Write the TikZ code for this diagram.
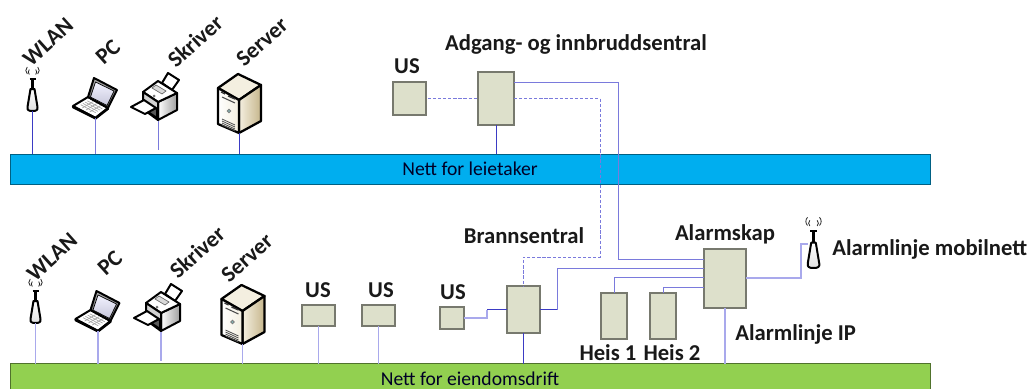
\documentclass[tikz,border=0pt]{standalone}
\usepackage{fontspec}
\setmainfont{Carlito}
\newdimen\px \px=0.75pt
\definecolor{boxfill}{HTML}{DDE0CB}
\definecolor{boxedge}{HTML}{77796E}
\definecolor{netblue}{HTML}{00AEEF}
\definecolor{netgreen}{HTML}{92D050}
\definecolor{linedark}{HTML}{3B3BC4}
\definecolor{linemid}{HTML}{7A7ADC}
\definecolor{linelight}{HTML}{A9A9EC}
\definecolor{tanlight}{HTML}{F4EFE0}
\definecolor{tandark}{HTML}{C6B68C}
\tikzset{
  x=0.75pt,y=-0.75pt,
  unitbox/.style={draw=boxedge,fill=boxfill,line width=0.8pt,inner sep=0pt,outer sep=0pt},
  net/.style={draw=#1!55!black,fill=#1,line width=0.7pt,minimum width=920\px,inner sep=0pt,outer sep=0pt,font=\fontsize{14.7}{16}\selectfont,text=black!85!blue},
  lbl/.style={font=\fontsize{17}{19}\selectfont\bfseries,inner sep=0pt,text=black!90},
  tilt/.style={lbl,rotate=42},
  wdark/.style={linedark,line width=0.7pt},
  wmid/.style={linemid,line width=0.7pt},
  wlight/.style={linelight,line width=1pt},
  wdash/.style={linemid,line width=0.7pt,dash pattern=on 2.4pt off 1.4pt},
  iconline/.style={draw=black,line width=1.5pt,line join=round},
  antenna/.pic={
    \coordinate (-port) at (0,0);
    \draw[black,line width=1.9pt] (0,-22) -- (0,-33);
    \draw[black,line width=1.1pt] (-3,-32) -- (3,-32);
    \draw[black!85,line width=.6pt] (-3.2,-36.5) arc[start angle=135,end angle=225,radius=3.5];
    \draw[black!85,line width=.6pt] (3.2,-36.5) arc[start angle=45,end angle=-45,radius=3.5];
    \draw[black!85,line width=.6pt] (-5.2,-37) arc[start angle=135,end angle=225,radius=5];
    \draw[black!85,line width=.6pt] (5.2,-37) arc[start angle=45,end angle=-45,radius=5];
    \draw[iconline,top color=white,bottom color=black!12] (-2,-22) -- (2,-22) -- (5,-4) .. controls (5.5,-1) and (4,0) .. (0,0) .. controls (-4,0) and (-5.5,-1) .. (-5,-4) -- cycle;
  },
  laptop/.pic={
    \coordinate (-port) at (0,0);
    \draw[iconline,fill=white] (-22.5,-12) -- (-7.5,-21) -- (12.5,-10) -- (0,0) -- cycle;
    \foreach \t in {.2,.4,.6,.8}{\draw[black!35,line width=.5pt] ($(-17,-12)!\t!(-6,-18.5)$) -- ($(-2,-4)!\t!(9,-10.5)$);}
    \foreach \t in {.25,.5,.75}{\draw[black!35,line width=.5pt] ($(-17,-12)!\t!(-2,-4)$) -- ($(-6,-18.5)!\t!(9,-10.5)$);}
    \draw[iconline,top color=black!30,bottom color=black!70] (-7.5,-21) -- (-1.5,-40) -- (21.5,-28) -- (12.5,-10) -- cycle;
    \draw[line width=.5pt,black,top color=blue!5,bottom color=blue!35!black!22] (-5,-21) -- (0,-36) -- (18.5,-27) -- (11.5,-12.5) -- cycle;
    \draw[black,line width=2pt,line cap=round] (-22.5,-11) -- (0,.2) -- (12.5,-9.5);
  },
  printer/.pic={
    \coordinate (-port) at (0,0);
    \draw[iconline,fill=white] (4,-38) -- (10,-48) -- (21,-41) -- (14,-31) -- cycle;
    \draw[iconline,left color=white,right color=black!38] (0,-19) -- (19,-28) -- (19,-11) -- (0,-1) -- cycle;
    \draw[iconline,fill=white] (-15,-29) -- (0,-40) -- (19,-28) -- (0,-19) -- cycle;
    \draw[black!60,line width=.5pt,fill=black!15] (-2,-36) -- (8,-30) -- (4,-27) -- (-6,-33) -- cycle;
    \draw[iconline,fill=black!18] (-15,-29) -- (0,-19) -- (0,-1) -- (-15,-12) -- cycle;
    \draw[iconline,fill=black!65] (-13,-19) -- (-1,-12) -- (-1,-3) -- (-13,-11) -- cycle;
    \draw[iconline,fill=white] (-27,-14) -- (-14,-21) -- (-2,-13) -- (-13,-7) -- cycle;
    \fill[black!55] (-4,-25) circle[radius=1.5];
  },
  tower/.pic={
    \coordinate (-port) at (0,0);
    \draw[iconline,line width=1.7pt,fill=tanlight] (-21,-45) -- (-1,-59) -- (22,-48) -- (0,-33) -- cycle;
    \draw[iconline,line width=1.7pt,left color=tanlight,right color=tandark] (0,-33) -- (22,-48) -- (22,-12) -- (0,0) -- cycle;
    \draw[iconline,line width=1.7pt,left color=white,right color=tanlight] (-21,-45) -- (0,-33) -- (0,0) -- (-21,-9) -- cycle;
    \draw[black!80,line width=1pt] (-18,-41) -- (-14,-39) (-11,-37) -- (-4,-34);
    \draw[black!70,line width=.8pt] (-17,-36) -- (-4,-30);
    \draw[black!50,line width=.6pt,fill=teal!50] (-10,-22) circle[radius=1.8];
    \foreach \d in {0,2,4,6}{\draw[black!70,line width=.6pt] (-17,-14+\d) -- (-4,-8+\d);}
  },
}
\usetikzlibrary{calc}
\begin{document}
\begin{tikzpicture}
\path[use as bounding box,clip] (0,0) rectangle (1032,389);
\fill[white] (0,0) rectangle (1032,389);
% networks
\node[net=netblue,minimum height=30\px] (leie) at (470,169) {Nett for leietaker};
\node[net=netgreen,minimum height=30\px] (drift) at (470,378.5) {Nett for eiendomsdrift};
% top icons
\pic (w1) at (32.5,111) {antenna};
\pic (p1) at (95.5,118) {laptop};
\pic (s1) at (158,121) {printer};
\pic (t1) at (239,133) {tower};
\coordinate (s1end) at (158,150);
% bottom icons
\pic (w2) at (35.5,323) {antenna};
\pic (p2) at (98,331) {laptop};
\pic (s2) at (161,332) {printer};
\pic (t2) at (242.5,344) {tower};
\coordinate (s2end) at (161,361);
\pic[scale=1.15] (w3) at (813.5,268) {antenna};
% boxes
\node[unitbox,minimum width=33\px,minimum height=33\px] (ustop) at (409.5,98.5) {};
\node[unitbox,minimum width=36\px,minimum height=53\px] (adgang) at (496,98.5) {};
\node[unitbox,minimum width=33\px,minimum height=21\px] (us1) at (318.5,315.5) {};
\node[unitbox,minimum width=33\px,minimum height=21\px] (us2) at (378.5,315.5) {};
\node[unitbox,minimum width=24\px,minimum height=22\px] (us3) at (452,318) {};
\node[unitbox,minimum width=33\px,minimum height=47\px] (brann) at (523.5,309.5) {};
\node[unitbox,minimum width=26\px,minimum height=46\px] (heis1) at (614,316) {};
\node[unitbox,minimum width=26\px,minimum height=46\px] (heis2) at (663,316) {};
\node[unitbox,minimum width=42\px,minimum height=59\px] (alarm) at (725,278.5) {};
% connectors top
\draw[wdark] (w1-port) -- (w1-port |- leie.north);
\draw[wmid] (p1-port) -- (p1-port |- leie.north);
\draw[wmid] (s1-port) -- (s1end);
\draw[wdark] (t1-port) -- (t1-port |- leie.north);
\draw[wdark] (adgang.south) -- (adgang.south |- leie.north);
\draw[wdash] (ustop.east) ++(2,0) -- (adgang.west);
% connectors bottom
\draw[wlight] (w2-port) -- (w2-port |- drift.north);
\draw[wlight] (p2-port) -- (p2-port |- drift.north);
\draw[wlight] (s2-port) -- (s2end);
\draw[wlight] (t2-port) -- (t2-port |- drift.north);
\draw[wlight] (us1.south) -- (us1.south |- drift.north);
\draw[wlight] (us2.south) -- (us2.south |- drift.north);
\draw[wdark] (brann.south) -- (brann.south |- drift.north);
\draw[wlight] (alarm.south) -- (alarm.south |- drift.north);
% long runs
\coordinate (a1) at (618,82);
\coordinate (a2) at (618,259);
\draw[wmid] (adgang.east |- a1) -- (a1) -- (a2) -- (alarm.west |- a2);
\coordinate (d1) at (600,98.5);
\coordinate (d2) at (600,257);
\draw[wdash] (adgang.east) -- (d1) -- (d2) -- (brann.north |- d2) -- (brann.north);
\coordinate (j1) at (487,318);
\coordinate (j2) at (487,309.5);
\draw[wlight] (us3.east) -- (j1) -- (j2);
\draw[wdark] (j2) -- (brann.west);
\coordinate (b1) at (557,309.5);
\coordinate (b2) at (557,268);
\draw[wdark] (brann.east) -- (b1);
\draw[wmid] (b1) -- (b2) -- (alarm.west |- b2);
\coordinate (h1) at (614,277);
\draw[wmid] (heis1.north) -- (h1) -- (alarm.west |- h1);
\coordinate (h2) at (663,287);
\draw[wmid] (heis2.north) -- (h2) -- (alarm.west |- h2);
\coordinate (m1) at (801,278);
\coordinate (m2) at (801,244);
\draw[wlight] (alarm.east |- m1) -- (m1) -- (m2) -- (808,244);
% labels
\node[lbl] (lus) at (407,66) {US};
\node[lbl] (ladg) at (576,44) {Adgang- og innbruddsentral};
\node[lbl] (lbr) at (524,236) {Brannsentral};
\node[lbl] (lal) at (725,234) {Alarmskap};
\node[lbl,anchor=west] (lmob) at (832,249) {Alarmlinje mobilnett};
\node[lbl,anchor=west] (lip) at (735,334) {Alarmlinje IP};
\node[lbl] (lh1) at (608,353) {Heis 1};
\node[lbl] (lh2) at (672,353) {Heis 2};
\node[lbl] (lu1) at (318,290) {US};
\node[lbl] (lu2) at (381,290) {US};
\node[lbl] (lu3) at (453,292) {US};
\node[tilt] (tw1) at (48,42) {WLAN};
\node[tilt] (tp1) at (108,52) {PC};
\node[tilt] (ts1) at (195,41) {Skriver};
\node[tilt] (tt1) at (262,42) {Server};
\node[tilt] (tw2) at (52,257) {WLAN};
\node[tilt] (tp2) at (110,263) {PC};
\node[tilt] (ts2) at (197,252) {Skriver};
\node[tilt] (tt2) at (247,258) {Server};
\end{tikzpicture}
\end{document}
